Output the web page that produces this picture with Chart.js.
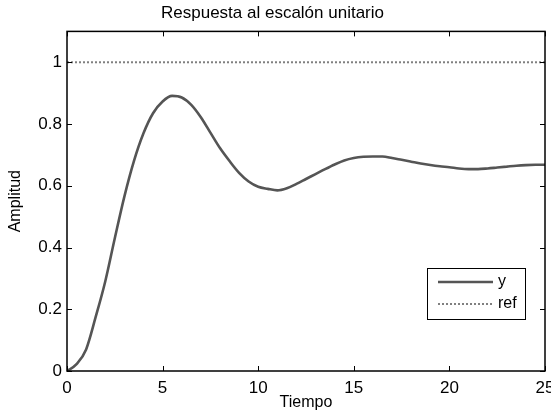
<!DOCTYPE html>
<html lang="es">
<head>
<meta charset="utf-8">
<title>Respuesta al escalón unitario</title>
<script src="https://cdn.jsdelivr.net/npm/chart.js@4.4.0/dist/chart.umd.min.js"></script>
<style>
    html, body { margin: 0; padding: 0; background: #fff; }
    #contenedor { width: 551px; height: 417px; }
</style>
</head>
<body>
<div id="contenedor"><canvas id="grafico_escalon"></canvas></div>
<script>
// Datos
const tiempo = [0, 0.5, 1, 1.5, 2, 2.5, 3, 3.5, 4, 4.5, 5, 5.5, 6, 6.5, 7, 7.5, 8, 8.5, 9, 9.5,
    10, 10.5, 11, 11.5, 12, 12.5, 13, 13.5, 14, 14.5, 15, 15.5, 16, 16.5, 17, 17.5, 18, 18.5, 19, 19.5,
    20, 20.5, 21, 21.5, 22, 22.5, 23, 23.5, 24, 24.5, 25];
const salidaY = [0, 0.022, 0.07, 0.175, 0.29, 0.43, 0.565, 0.68, 0.77, 0.835, 0.873, 0.891, 0.886, 0.862, 0.822, 0.772, 0.722, 0.68, 0.642, 0.614,
    0.597, 0.59, 0.585, 0.592, 0.606, 0.622, 0.638, 0.654, 0.669, 0.682, 0.69, 0.694, 0.695, 0.695, 0.69, 0.684, 0.678, 0.672, 0.667, 0.663,
    0.66, 0.656, 0.654, 0.654, 0.656, 0.659, 0.662, 0.665, 0.667, 0.668, 0.668];
const tiempoRef = [0, 25];
const valorRef = [1, 1];
const ticksX = [0, 5, 10, 15, 20, 25];
const ticksY = [0, 0.2, 0.4, 0.6, 0.8, 1];
const etiquetas = ['y', 'ref'];

const fuente = '"Liberation Sans", Arial, Helvetica, sans-serif';

// Marcas hacia adentro en los cuatro lados, marco y leyenda (estilo MATLAB)
const marcoPlugin = {
    id: 'marco',
    afterDraw(chart) {
        const { ctx, chartArea: a, scales } = chart;
        const largo = 5;
        ctx.save();
        ctx.strokeStyle = '#000';
        ctx.lineWidth = 1;
        scales.x.ticks.forEach(t => {
            const px = Math.round(scales.x.getPixelForValue(t.value)) + 0.5;
            ctx.beginPath();
            ctx.moveTo(px, a.bottom); ctx.lineTo(px, a.bottom - largo);
            ctx.moveTo(px, a.top); ctx.lineTo(px, a.top + largo);
            ctx.stroke();
        });
        scales.y.ticks.forEach(t => {
            const py = Math.round(scales.y.getPixelForValue(t.value)) + 0.5;
            ctx.beginPath();
            ctx.moveTo(a.left, py); ctx.lineTo(a.left + largo, py);
            ctx.moveTo(a.right, py); ctx.lineTo(a.right - largo, py);
            ctx.stroke();
        });
        ctx.lineWidth = 1.5;
        ctx.strokeRect(a.left, a.top, a.right - a.left, a.bottom - a.top);

        // Leyenda dentro del área, abajo a la derecha
        const ds = chart.data.datasets;
        const cx = a.right - 118, cy = a.bottom - 103, w = 98, h = 51;
        ctx.fillStyle = '#fff';
        ctx.fillRect(cx, cy, w, h);
        ctx.lineWidth = 1;
        ctx.strokeStyle = '#000';
        ctx.strokeRect(cx + 0.5, cy + 0.5, w, h);
        ds.forEach((d, i) => {
            const ly = cy + 14 + i * 22;
            ctx.save();
            ctx.strokeStyle = d.borderColor;
            ctx.lineWidth = d.borderWidth;
            ctx.setLineDash(d.borderDash || []);
            ctx.beginPath();
            ctx.moveTo(cx + 11, ly); ctx.lineTo(cx + 66, ly);
            ctx.stroke();
            ctx.restore();
            ctx.fillStyle = '#000';
            ctx.font = '16px ' + fuente;
            ctx.textBaseline = 'middle';
            ctx.textAlign = 'left';
            ctx.fillText(d.label, cx + 71, ly);
        });
        ctx.restore();
    }
};

document.addEventListener('DOMContentLoaded', function () {
    const ctx = document.getElementById('grafico_escalon').getContext('2d');
    new Chart(ctx, {
        type: 'line',
        data: {
            datasets: [
                {
                    label: etiquetas[0],
                    data: tiempo.map((t, i) => ({ x: t, y: salidaY[i] })),
                    borderColor: '#555555',
                    borderWidth: 2.6,
                    pointRadius: 0,
                    cubicInterpolationMode: 'monotone'
                },
                {
                    label: etiquetas[1],
                    data: tiempoRef.map((t, i) => ({ x: t, y: valorRef[i] })),
                    borderColor: '#808080',
                    borderWidth: 2,
                    borderDash: [2, 2],
                    pointRadius: 0
                }
            ]
        },
        options: {
            responsive: true,
            maintainAspectRatio: false,
            animation: false,
            layout: { padding: { left: 0, right: 6, top: 0, bottom: 0 } },
            plugins: {
                legend: { display: false },
                tooltip: { enabled: false },
                title: {
                    display: true,
                    text: 'Respuesta al escalón unitario',
                    color: '#000',
                    font: { family: fuente, size: 17, weight: 'normal' },
                    padding: { top: 3, bottom: 8 }
                }
            },
            scales: {
                x: {
                    type: 'linear',
                    min: 0,
                    max: 25,
                    afterBuildTicks: s => { s.ticks = ticksX.map(v => ({ value: v })); },
                    afterFit: s => { s.height = 46; s.paddingLeft = 0; s.paddingRight = 0; },
                    grid: { display: false, drawTicks: false, tickLength: 0 },
                    border: { display: false },
                    ticks: {
                        color: '#000', padding: 7, maxRotation: 0,
                        font: { family: fuente, size: 17 },
                        callback: v => String(v)
                    },
                    title: {
                        display: true,
                        text: 'Tiempo',
                        color: '#000',
                        font: { family: fuente, size: 16 },
                        padding: { top: 0, bottom: 5 }
                    }
                },
                y: {
                    min: 0,
                    max: 1.1,
                    afterBuildTicks: s => { s.ticks = ticksY.map(v => ({ value: v })); },
                    afterFit: s => { s.width = 67; s.paddingTop = 0; s.paddingBottom = 0; },
                    grid: { display: false, drawTicks: false, tickLength: 0 },
                    border: { display: false },
                    ticks: {
                        color: '#000', padding: 5,
                        font: { family: fuente, size: 17 },
                        callback: v => String(v)
                    },
                    title: {
                        display: true,
                        text: 'Amplitud',
                        color: '#000',
                        font: { family: fuente, size: 16 },
                        padding: { top: 6, bottom: 0 }
                    }
                }
            }
        },
        plugins: [marcoPlugin]
    });
});
</script>
</body>
</html>
